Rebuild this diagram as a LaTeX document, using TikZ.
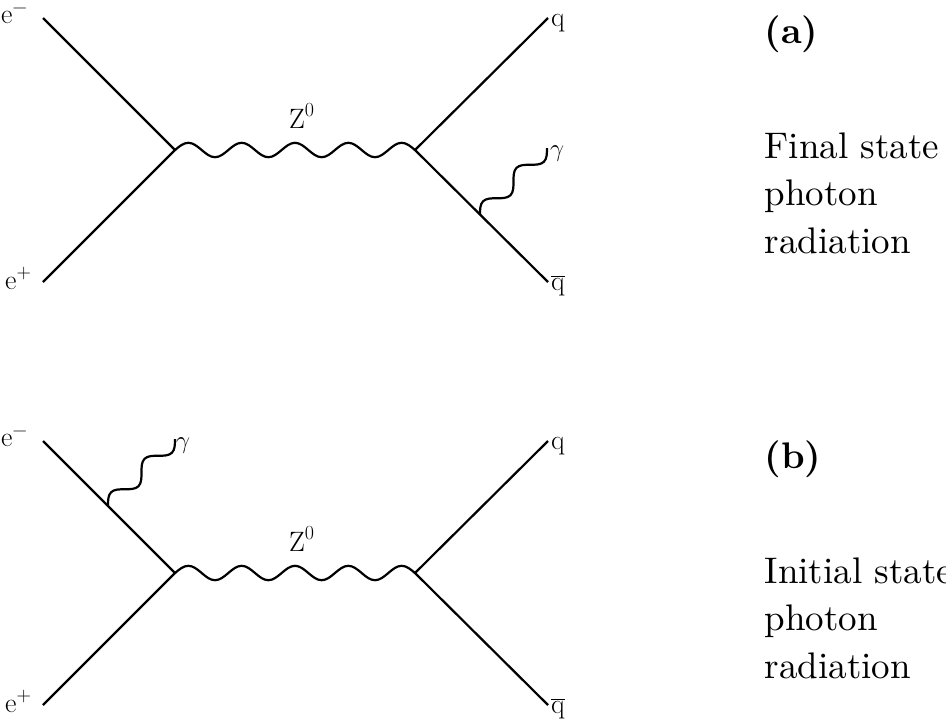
\documentclass[tikz,border=0pt]{standalone}
\usepackage{fontspec}
\tikzset{
  fermion/.style={line width=2.2pt},
  boson/.style={line width=2.2pt},
  lbl/.style={anchor=base west, inner sep=0pt, font=\fontsize{28}{30}\selectfont},
  bigtxt/.style={anchor=base west, inner sep=0pt, scale=3.7, transform shape, align=left, font=\fontsize{10}{12.8}\selectfont},
}
\newcommand{\supm}{\raisebox{10pt}{\fontsize{20}{20}\selectfont −}}
\newcommand{\supp}{\raisebox{11pt}{\fontsize{20}{20}\selectfont +}}
\newcommand{\supz}{\raisebox{12pt}{\fontsize{20}{20}\selectfont 0}}
\begin{document}
\begin{tikzpicture}[x=1pt,y=1pt]
\useasboundingbox (0,0) rectangle (946,-721);
% ---------- diagram (a)
\coordinate (e1a) at (43,-18);
\coordinate (e2a) at (43,-282);
\coordinate (v1a) at (175,-150);
\coordinate (v2a) at (415,-150);
\coordinate (qa) at (548,-18);
\coordinate (qba) at (548,-282);
\coordinate (g1a) at (480,-215);
\draw[fermion] (e1a) -- (v1a) -- (e2a);
\draw[fermion] (qa) -- (v2a) -- (qba);
\draw[boson] (v1a) \foreach \i in {1,...,4}{ sin ++(13.333,7.2) cos ++(13.333,-7.2) sin ++(13.333,-7.2) cos ++(13.333,7.2)} sin ++(13.333,7.2) cos ++(13.333,-7.2);
\begin{scope}[shift={(g1a)},rotate=45]
\draw[boson] (0,0) \foreach \i in {1,2}{ sin ++(11.84,7.54) cos ++(11.84,-7.54) sin ++(11.84,-7.54) cos ++(11.84,7.54)} coordinate (g2a);
\end{scope}
\node[lbl] (lem_a) at (1,-23) {e\supm};
\node[lbl] (lep_a) at (5,-289) {e\supp};
\node[lbl] (lq_a) at (551,-26) {q};
\node[lbl] (lqb_a) at (551,-290) {$\overline{\mbox{q}}$};
\node[lbl] (lz_a) at (289,-128) {Z\supz};
\node[lbl] (lg_a) at (550,-156) {$\gamma$};
\node[bigtxt] (ta) at (764,-43) {\bfseries (a)};
\node[bigtxt] (da) at (764,-253) {Final state\\photon\\radiation};
% ---------- diagram (b)
\coordinate (e1b) at (43,-441);
\coordinate (e2b) at (43,-705);
\coordinate (v1b) at (175,-573);
\coordinate (v2b) at (415,-573);
\coordinate (qb) at (548,-441);
\coordinate (qbb) at (548,-705);
\coordinate (g1b) at (108,-506);
\draw[fermion] (e1b) -- (v1b) -- (e2b);
\draw[fermion] (qb) -- (v2b) -- (qbb);
\draw[boson] (v1b) \foreach \i in {1,...,4}{ sin ++(13.333,7.2) cos ++(13.333,-7.2) sin ++(13.333,-7.2) cos ++(13.333,7.2)} sin ++(13.333,7.2) cos ++(13.333,-7.2);
\begin{scope}[shift={(g1b)},rotate=45]
\draw[boson] (0,0) \foreach \i in {1,2}{ sin ++(11.84,7.54) cos ++(11.84,-7.54) sin ++(11.84,-7.54) cos ++(11.84,7.54)} coordinate (g2b);
\end{scope}
\node[lbl] (lem_b) at (1,-446) {e\supm};
\node[lbl] (lep_b) at (5,-712) {e\supp};
\node[lbl] (lq_b) at (551,-449) {q};
\node[lbl] (lqb_b) at (551,-713) {$\overline{\mbox{q}}$};
\node[lbl] (lz_b) at (289,-551) {Z\supz};
\node[lbl] (lg_b) at (176,-448) {$\gamma$};
\node[bigtxt] (tb) at (764,-468) {\bfseries (b)};
\node[bigtxt] (db) at (764,-678) {Initial state\\photon\\radiation};
\end{tikzpicture}
\end{document}
